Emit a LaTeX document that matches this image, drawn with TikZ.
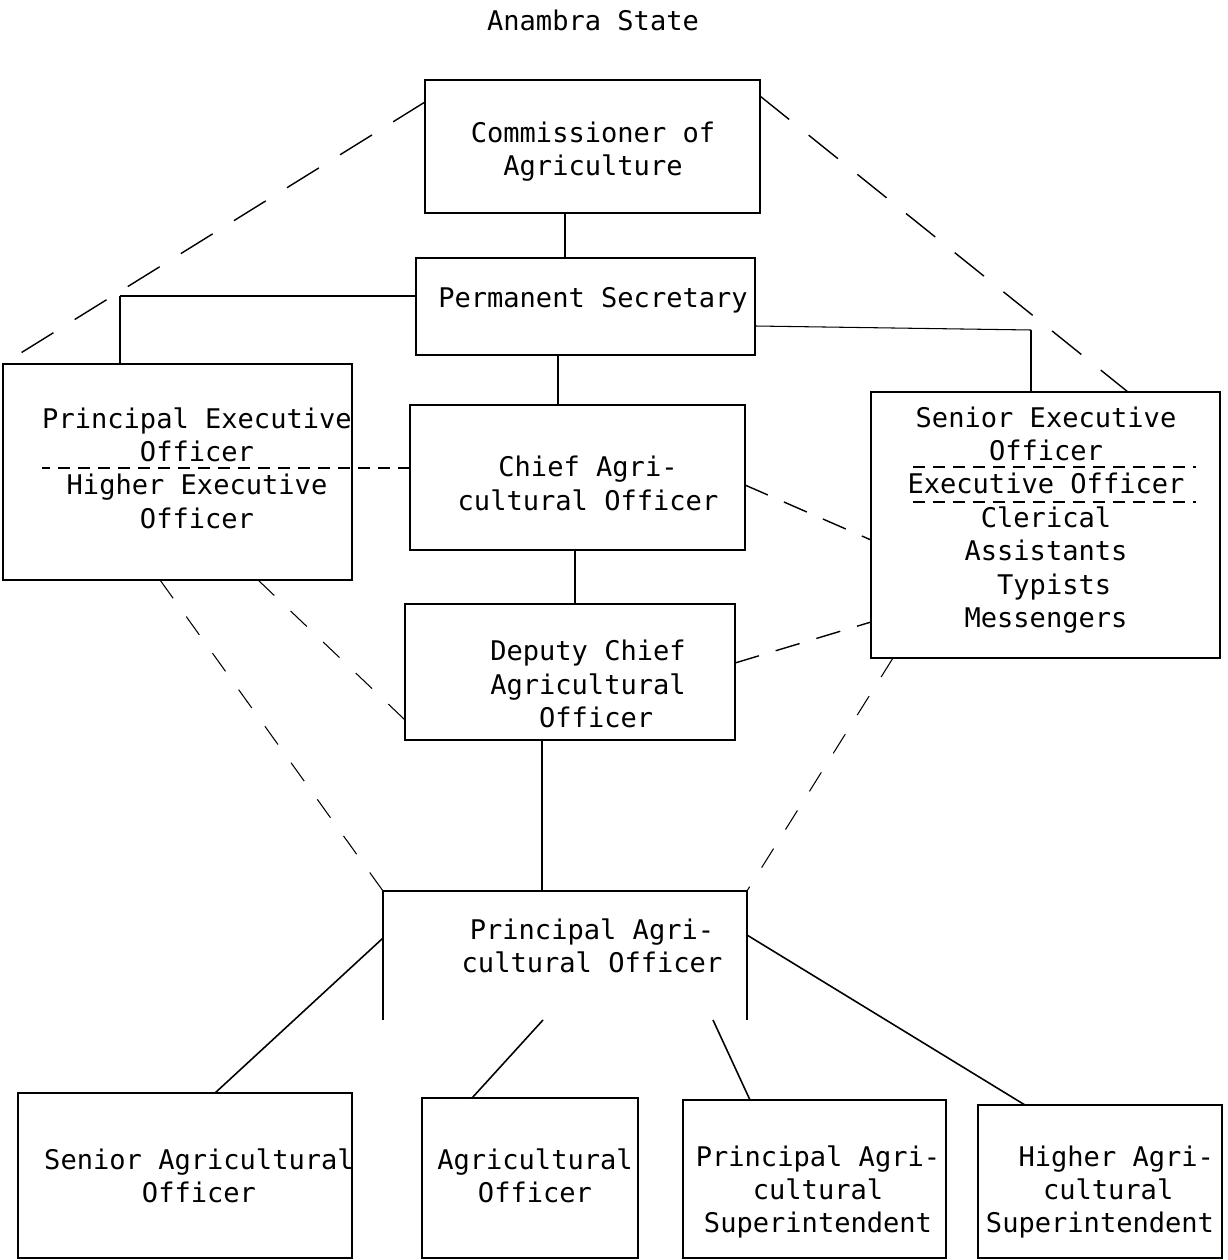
\documentclass[tikz,border=0pt]{standalone}
\usepackage{fontspec}
\setmonofont{DejaVu Sans Mono}
\begin{document}
\begin{tikzpicture}[x=0.02cm,y=-0.02cm,
  box/.style={draw,line width=0.9pt,inner sep=0pt,outer sep=0pt},
  txt/.style={font=\ttfamily\fontsize{15.4}{19}\selectfont,align=center,inner sep=0pt},
  link/.style={line width=0.9pt},
  faint/.style={line width=0.6pt},
  sep/.style={line width=0.9pt,dash pattern=on 0.24cm off 0.16cm},
  longdash/.style={line width=0.8pt,dash pattern=on 0.75cm off 0.5cm},
  middash/.style={line width=0.8pt,dash pattern=on 0.5cm off 0.35cm},
  dotdash/.style={line width=0.6pt,dash pattern=on 0.45cm off 0.45cm}]
\useasboundingbox (0,0) rectangle (1227,1260);

% title
\node[txt] (title) at (593,20) {Anambra State};

% boxes
\node[box,minimum width=6.7cm,minimum height=2.66cm] (com) at (592.5,146.5) {};
\node[box,minimum width=6.78cm,minimum height=1.94cm] (ps) at (585.5,306.5) {};
\node[box,minimum width=6.98cm,minimum height=4.32cm] (peo) at (177.5,472) {};
\node[box,minimum width=6.7cm,minimum height=2.9cm] (cao) at (577.5,477.5) {};
\node[box,minimum width=6.98cm,minimum height=5.32cm] (seo) at (1045.5,525) {};
\node[box,minimum width=6.6cm,minimum height=2.72cm] (dcao) at (570,672) {};
\node[box,draw=none,minimum width=7.28cm,minimum height=2.58cm] (pao) at (565,955.5) {};
\draw[line width=0.9pt] (pao.south west) -- (pao.north west) -- (pao.north east) -- (pao.south east);
\node[box,minimum width=6.68cm,minimum height=3.3cm] (sao) at (185,1175.5) {};
\node[box,minimum width=4.32cm,minimum height=3.2cm] (ao) at (530,1178) {};
\node[box,minimum width=5.26cm,minimum height=3.16cm] (pas) at (814.5,1179) {};
\node[box,minimum width=4.88cm,minimum height=3.06cm] (has) at (1100,1181.5) {};

% texts
\node[txt] (tcom) at (593,151.5) {Commissioner of\\Agriculture};
\node[txt] (tps) at (593,300) {Permanent Secretary};
\node[txt] (tpeo) at (197,468) {Principal Executive\\Officer\\Higher Executive\\Officer};
\node[txt] (tcao) at (588,483.5) {Chief Agri-\\cultural Officer};
\node[txt] (tseo) at (1046,520) {Senior Executive\\Officer\\Executive Officer\\Clerical\\Assistants\\\ Typists\\Messengers};
\node[txt] (tdcao) at (588,684) {Deputy Chief\\Agricultural\\\ Officer};
\node[txt] (tpao) at (592,946) {Principal Agri-\\cultural Officer};
\node[txt] (tsao) at (199,1176) {Senior Agricultural\\Officer};
\node[txt] (tao) at (535,1176) {Agricultural\\Officer};
\node[txt] (tpas) at (818,1192) {Principal Agri-\\cultural\\Superintendent};
\node[txt] (thas) at (1100,1192) {\ \ Higher Agri-\\\ cultural\\Superintendent};

% separators inside the executive boxes
\draw[sep] (913,467) -- (1196,467);
\draw[sep] (913,502) -- (1196,502);

% solid hierarchy lines
\draw[link] (com.south -| 565,0) -- (ps.north -| 565,0);
\draw[link] (ps.south -| 558,0) -- (cao.north -| 558,0);
\draw[link] (cao.south -| 575,0) -- (dcao.north -| 575,0);
\draw[link] (dcao.south -| 542,0) -- (pao.north -| 542,0);
\draw[faint] (ps.west |- 0,296) -- (120,296);
\draw[link] (120,296) -- (peo.north -| 120,0);
\draw[faint] (ps.east |- 0,326) -- (1031,330);
\draw[link] (1031,330) -- (seo.north -| 1031,0);

% dashed links
\draw[sep] (cao.west |- 0,468) -- (42,468);
\draw[middash] (cao.east |- 0,485) -- (seo.west |- 0,540);
\draw[middash] (dcao.east |- 0,663) -- (seo.west |- 0,622);
\draw[longdash] (com.west |- 0,102) -- (peo.north west);
\draw[longdash] (com.east |- 0,96) -- (seo.north -| 1128,0);
\draw[dotdash] (peo.south -| 160,0) -- (pao.north west);
\draw[dotdash] (peo.south -| 258,0) -- (dcao.west |- 0,720);
\draw[dotdash] (seo.south -| 893,0) -- (pao.north east);

% lower level
\draw[link] (pao.west |- 0,938) -- (sao.north -| 215,0);
\draw[link] (pao.south -| 543,0) -- (ao.north -| 472,0);
\draw[link] (pao.south -| 713,0) -- (pas.north -| 750,0);
\draw[link] (pao.east |- 0,935) -- (has.north -| 1025,0);
\end{tikzpicture}
\end{document}
